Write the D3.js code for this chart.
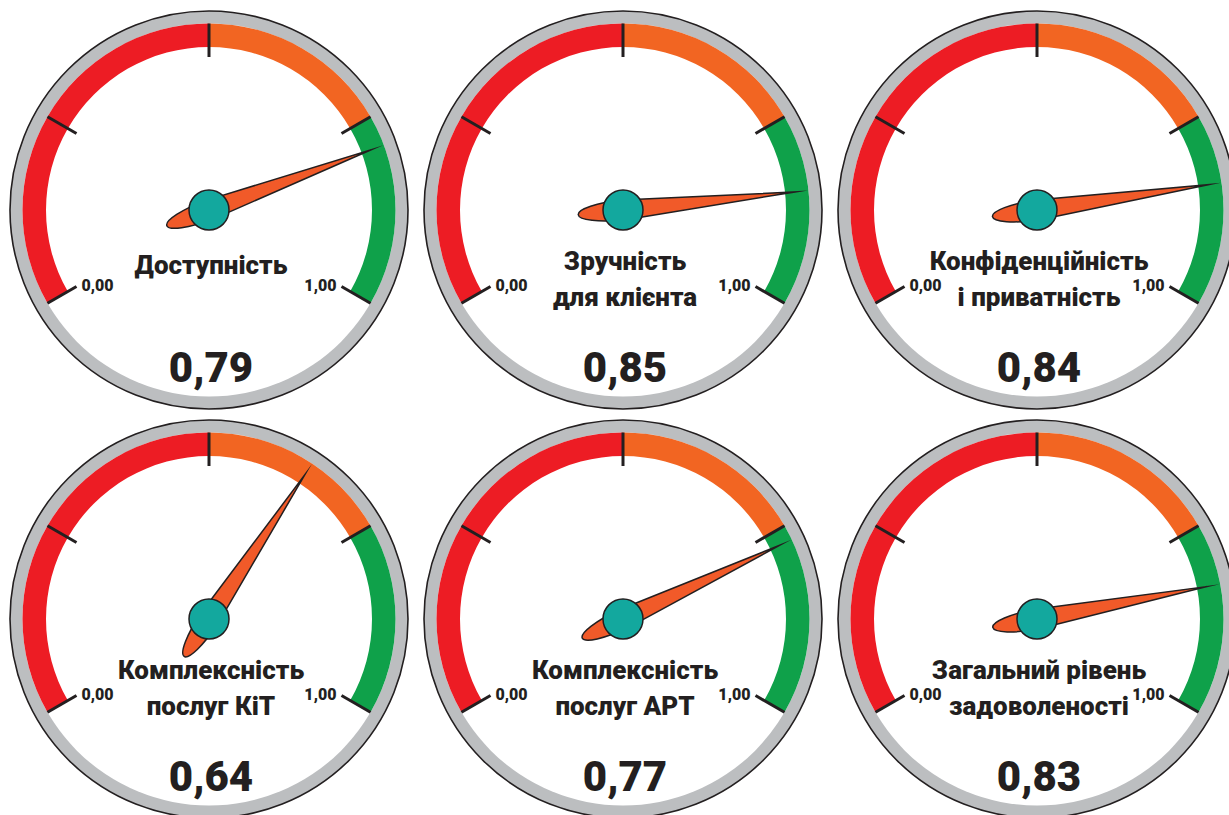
<!DOCTYPE html>
<html lang="uk">
<head>
<meta charset="utf-8">
<title>Рівень задоволеності</title>
<script src="https://cdn.jsdelivr.net/npm/d3@7"></script>
<style>
  html, body { margin: 0; padding: 0; background: #fff; }
  svg { display: block; }
  text { font-family: Roboto, "Noto Sans", sans-serif; font-weight: 900; fill: #231f20; }
</style>
</head>
<body>
<script>
// Gauge data
const titles = [
  ["Доступність"],
  ["Зручність", "для клієнта"],
  ["Конфіденційність", "і приватність"],
  ["Комплексність", "послуг КіТ"],
  ["Комплексність", "послуг АРТ"],
  ["Загальний рівень", "задоволеності"]
];
const values = [0.79, 0.85, 0.84, 0.64, 0.77, 0.83];

// Scale: ticks, zone boundaries and end labels
const tickValues = [0, 0.25, 0.5, 0.75, 1];
const zoneBreaks = [0, 0.5, 0.75, 1];
const zoneColors = ["#ed1c24", "#f26522", "#0fa14a"];
const endLabels = ["0,00", "1,00"];

const W = 1229, H = 815;
const svg = d3.select("body").append("svg").attr("width", W).attr("height", H);

// grid of gauges: 3 columns, 2 rows
const colX = d3.scaleLinear().domain([0, 2]).range([209, 1037]);
const rowY = d3.scaleLinear().domain([0, 1]).range([210, 619]);

// value -> angle (degrees, clockwise from 12 o'clock)
const angle = d3.scaleLinear().domain([0, 1]).range([-120, 120]);
const rad = d => d * Math.PI / 180;

const fmt = d3.formatLocale({ decimal: ",", thousands: " ", grouping: [3], currency: ["", ""] }).format(".2f");

const R_OUT = 199, R_RING = 186.5, R_BAND_IN = 163, R_TICK_IN = 153;
const NEEDLE_LEN = 173, NEEDLE_W = 10, NEEDLE_TAIL = 45, HUB_R = 20;

const bandArc = d3.arc().innerRadius(R_BAND_IN).outerRadius(R_RING);

const gauges = svg.selectAll("g.gauge")
  .data(values.map((v, i) => ({ v, title: titles[i], i })))
  .join("g")
  .attr("class", "gauge")
  .attr("transform", d => `translate(${colX(d.i % 3)},${rowY(Math.floor(d.i / 3))})`);

// bezel
gauges.append("circle").attr("r", R_OUT)
  .attr("fill", "#bcbec0").attr("stroke", "#231f20").attr("stroke-width", 1.6);
gauges.append("circle").attr("r", R_RING).attr("fill", "#fff");

// coloured zones
gauges.selectAll("path.zone")
  .data(zoneColors.map((c, k) => ({ c, a0: zoneBreaks[k], a1: zoneBreaks[k + 1] })))
  .join("path")
  .attr("class", "zone")
  .attr("fill", z => z.c)
  .attr("d", z => bandArc({ startAngle: rad(angle(z.a0)), endAngle: rad(angle(z.a1)) }));

// ticks
gauges.selectAll("line.tick")
  .data(tickValues)
  .join("line")
  .attr("class", "tick")
  .attr("x1", t => R_RING * Math.sin(rad(angle(t))))
  .attr("y1", t => -R_RING * Math.cos(rad(angle(t))))
  .attr("x2", t => R_TICK_IN * Math.sin(rad(angle(t))))
  .attr("y2", t => -R_TICK_IN * Math.cos(rad(angle(t))))
  .attr("stroke", "#231f20").attr("stroke-width", 3);

// end labels
gauges.append("text")
  .attr("x", R_TICK_IN * Math.sin(rad(angle(0))) + 5)
  .attr("y", -R_TICK_IN * Math.cos(rad(angle(0))) + 4)
  .attr("font-size", 16)
  .attr("text-anchor", "start")
  .text(endLabels[0]);
gauges.append("text")
  .attr("x", R_TICK_IN * Math.sin(rad(angle(1))) - 5)
  .attr("y", -R_TICK_IN * Math.cos(rad(angle(1))) + 4)
  .attr("font-size", 16)
  .attr("text-anchor", "end")
  .text(endLabels[1]);

// titles
gauges.each(function (d) {
  const g = d3.select(this);
  const lines = d.title;
  const base = lines.length === 1 ? 64 : 60;
  lines.forEach((ln, k) => {
    g.append("text")
      .attr("x", 2)
      .attr("y", base + k * 36)
      .attr("font-size", 26)
      .attr("text-anchor", "middle")
      .text(ln);
  });
});

// value readout
gauges.append("text")
  .attr("x", 2)
  .attr("y", 172)
  .attr("font-size", 42)
  .attr("text-anchor", "middle")
  .text(d => fmt(d.v));

// needle
const needlePath = `M0,${-NEEDLE_LEN} L${NEEDLE_W},0 A${NEEDLE_W},${NEEDLE_TAIL} 0 0 1 ${-NEEDLE_W},0 Z`;
gauges.append("path")
  .attr("d", needlePath)
  .attr("transform", d => `rotate(${angle(d.v)})`)
  .attr("fill", "#f15a29")
  .attr("stroke", "#231f20")
  .attr("stroke-width", 1.5)
  .attr("stroke-linejoin", "miter")
  .attr("stroke-miterlimit", 40);

// hub
gauges.append("circle").attr("r", HUB_R)
  .attr("fill", "#13a89e").attr("stroke", "#231f20").attr("stroke-width", 1.5);
</script>
</body>
</html>
